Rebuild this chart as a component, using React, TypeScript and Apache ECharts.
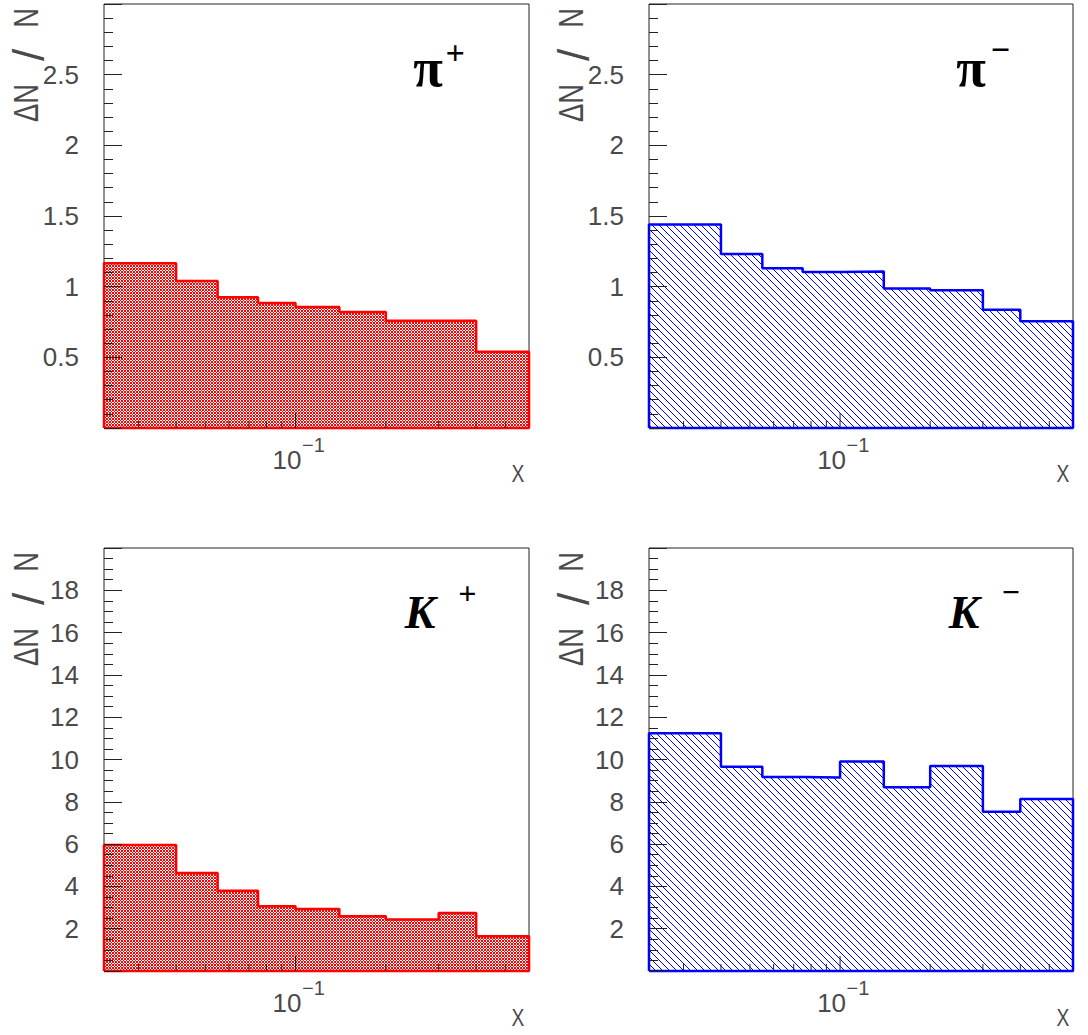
import { useEffect, useRef } from 'react';
import * as echarts from 'echarts';

// Variable-width x bins shared by all four histograms
const binEdges = [0.023, 0.04, 0.055, 0.075, 0.1, 0.14, 0.2, 0.3, 0.4, 0.6];

// Bin contents per hadron type
const piPlusRatio = [1.165, 1.04, 0.926, 0.885, 0.857, 0.82, 0.758, 0.758, 0.54];
const piMinusRatio = [1.44, 1.232, 1.131, 1.103, 1.107, 0.987, 0.975, 0.836, 0.755];
const kPlusRatio = [5.96, 4.63, 3.8, 3.06, 2.93, 2.59, 2.44, 2.74, 1.64];
const kMinusRatio = [11.24, 9.66, 9.17, 9.15, 9.9, 8.69, 9.69, 7.53, 8.13];

// Log-axis tick values
const xMinorTicks = [0.03, 0.04, 0.05, 0.06, 0.07, 0.08, 0.09, 0.2, 0.3, 0.4, 0.5];
const xMajorTicks = [0.1];

// y-axis ranges: [max, major step, minor divisions]
const pionAxis = [3, 0.5, 5];
const kaonAxis = [20, 2, 4];

const FONT = '"Liberation Sans", Arial, sans-serif';
const TICK_COLOR = '#222';
const LABEL_COLOR = '#4a4a4a';

function makeTile(kind: 'cross' | 'diag', color: string) {
  const size = kind === 'cross' ? 3 : 7;
  const c = document.createElement('canvas');
  c.width = size;
  c.height = size;
  const ctx = c.getContext('2d')!;
  ctx.fillStyle = '#ffffff';
  ctx.fillRect(0, 0, size, size);
  ctx.fillStyle = color;
  for (let x = 0; x < size; x++) {
    for (let y = 0; y < size; y++) {
      if (kind === 'cross') {
        // fine cross-hatch made of both diagonals
        if ((x + y) % 3 === 0 || (x - y + 3) % 3 === 0) ctx.fillRect(x, y, 1, 1);
      } else if (x === y) {
        ctx.fillRect(x, y, 1, 1);
      }
    }
  }
  return { image: c, repeat: 'repeat', imageWidth: size, imageHeight: size };
}

function outline(values: number[]) {
  const last = binEdges.length - 1;
  const pts: number[][] = [[binEdges[0], 0]];
  values.forEach((v, i) => pts.push([binEdges[i], v]));
  pts.push([binEdges[last], values[values.length - 1]]);
  pts.push([binEdges[last], 0]);
  pts.push([binEdges[0], 0]);
  return pts;
}

export default function App() {
  const ref = useRef<HTMLDivElement>(null);

  useEffect(() => {
    if (!ref.current) return;
    const chart = echarts.init(ref.current, null, { renderer: 'svg' });

    const panels = [
      { values: piPlusRatio, color: '#ff0000', hatch: 'cross', axis: pionAxis },
      { values: piMinusRatio, color: '#0000ff', hatch: 'diag', axis: pionAxis },
      { values: kPlusRatio, color: '#ff0000', hatch: 'cross', axis: kaonAxis },
      { values: kMinusRatio, color: '#0000ff', hatch: 'diag', axis: kaonAxis },
    ];

    const boxes = [
      { left: 104, top: 4, width: 425, height: 424 },
      { left: 649, top: 4, width: 424, height: 424 },
      { left: 104, top: 548, width: 425, height: 423 },
      { left: 649, top: 548, width: 424, height: 423 },
    ];

    const tickData = [
      ...xMinorTicks.map((v) => [v, 0]),
      ...xMajorTicks.map((v) => [v, 1]),
    ];

    const series: any[] = [];
    panels.forEach((p, i) => {
      series.push({
        type: 'line',
        xAxisIndex: i,
        yAxisIndex: i,
        data: outline(p.values),
        step: 'end',
        symbol: 'none',
        clip: false,
        silent: true,
        z: 3,
        lineStyle: { color: p.color, width: 2.5 },
        areaStyle: { color: makeTile(p.hatch as any, p.color), opacity: 1, origin: 'start' },
      });
      series.push({
        type: 'custom',
        xAxisIndex: i,
        yAxisIndex: i,
        data: tickData,
        clip: false,
        silent: true,
        z: 6,
        encode: { x: 0 },
        renderItem: (_params: any, api: any) => {
          const v = api.value(0);
          const major = api.value(1) === 1;
          const pt = api.coord([v, 0]);
          const children: any[] = [
            {
              type: 'line',
              shape: { x1: pt[0], y1: pt[1], x2: pt[0], y2: pt[1] - (major ? 15 : 7) },
              style: { stroke: TICK_COLOR, lineWidth: 1 },
            },
          ];
          if (major) {
            const exp = Math.round(Math.log10(v));
            children.push({
              type: 'text',
              x: pt[0] + 6,
              y: pt[1] + 31.5,
              style: {
                text: '10',
                font: `26px ${FONT}`,
                fill: LABEL_COLOR,
                align: 'right',
                verticalAlign: 'middle',
              },
            });
            children.push({
              type: 'text',
              x: pt[0] + 6.5,
              y: pt[1] + 17,
              style: {
                text: (exp < 0 ? '\u2212' : '') + Math.abs(exp),
                font: `20px ${FONT}`,
                fill: LABEL_COLOR,
                align: 'left',
                verticalAlign: 'middle',
              },
            });
          }
          return { type: 'group', children };
        },
      });
    });

    const titleTexts: any[] = [];
    const centered = { align: 'center', verticalAlign: 'middle', textAlign: 'center', textVerticalAlign: 'middle' };

    // y titles "ΔN / N", read bottom to top; pieces placed along the rotated baseline
    const yTitleAnchors = [
      [26, 4],
      [571, 4],
      [26, 548],
      [571, 548],
    ];
    const yTitlePieces = [
      { text: '\u0394N', dy: 99, dx: 0, size: 35, squeeze: 0.78 },
      { text: '/', dy: 51, dx: 2, size: 44, squeeze: 1 },
      { text: 'N', dy: 14, dx: 0, size: 35, squeeze: 0.78 },
    ];
    yTitleAnchors.forEach(([x, y]) => {
      yTitlePieces.forEach((piece) => {
        titleTexts.push({
          type: 'text',
          x: x + piece.dx,
          y: y + piece.dy,
          rotation: Math.PI / 2,
          scaleX: piece.squeeze,
          style: {
            text: piece.text,
            font: `${piece.size}px ${FONT}`,
            fill: LABEL_COLOR,
            ...centered,
          },
        });
      });
    });

    const xTitlePos = [
      [518, 474],
      [1063, 474],
      [518, 1018],
      [1063, 1018],
    ];
    xTitlePos.forEach(([x, y]) => {
      titleTexts.push({
        type: 'text',
        x,
        y,
        scaleX: 0.8,
        style: { text: 'X', font: `24px ${FONT}`, fill: LABEL_COLOR, ...centered },
      });
    });

    const names = [
      { main: '\u03c0', sup: '+', at: [428, 68], supAt: [455, 52], kaon: false },
      { main: '\u03c0', sup: '\u2212', at: [971, 68], supAt: [1000, 49], kaon: false },
      { main: 'K', sup: '+', at: [420, 612], supAt: [467, 593], kaon: true },
      { main: 'K', sup: '\u2212', at: [964, 612], supAt: [1011, 592], kaon: true },
    ];
    names.forEach((n) => {
      titleTexts.push({
        type: 'text',
        x: n.at[0],
        y: n.at[1],
        style: {
          text: n.main,
          font: n.kaon
            ? 'italic bold 46px "Liberation Serif", "Times New Roman", serif'
            : 'bold 54px "Liberation Serif", "Times New Roman", serif',
          fill: '#000',
          ...centered,
        },
      });
      titleTexts.push({
        type: 'text',
        x: n.supAt[0],
        y: n.supAt[1],
        style: {
          text: n.sup,
          font: n.kaon
            ? 'italic bold 32px "Liberation Serif", serif'
            : 'italic bold 34px "Liberation Serif", serif',
          fill: '#000',
          ...centered,
        },
      });
    });

    chart.setOption({
      animation: false,
      backgroundColor: '#ffffff',
      grid: boxes.map((b) => ({
        ...b,
        show: true,
        borderColor: TICK_COLOR,
        borderWidth: 1,
        backgroundColor: 'transparent',
      })),
      xAxis: boxes.map((_b, i) => ({
        type: 'log',
        gridIndex: i,
        logBase: 10,
        min: binEdges[0],
        max: binEdges[binEdges.length - 1],
        axisLine: { show: false },
        axisTick: { show: false },
        axisLabel: { show: false },
        splitLine: { show: false },
      })),
      yAxis: panels.map((p, i) => ({
        type: 'value',
        gridIndex: i,
        min: 0,
        max: p.axis[0],
        interval: p.axis[1],
        z: 10,
        axisLine: { show: false },
        axisTick: { show: true, inside: true, length: 18, lineStyle: { color: TICK_COLOR, width: 1 } },
        minorTick: { show: true, splitNumber: p.axis[2], length: 9, lineStyle: { color: TICK_COLOR, width: 1 } },
        splitLine: { show: false },
        minorSplitLine: { show: false },
        axisLabel: {
          show: true,
          showMinLabel: false,
          showMaxLabel: false,
          margin: 25,
          fontSize: 26,
          fontFamily: FONT,
          color: LABEL_COLOR,
        },
      })),
      series,
      graphic: titleTexts,
    });

    return () => chart.dispose();
  }, []);

  return (
    <div
      ref={ref}
      style={{ position: 'absolute', left: 0, top: 0, width: 1088, height: 1035, background: '#fff' }}
    />
  );
}
